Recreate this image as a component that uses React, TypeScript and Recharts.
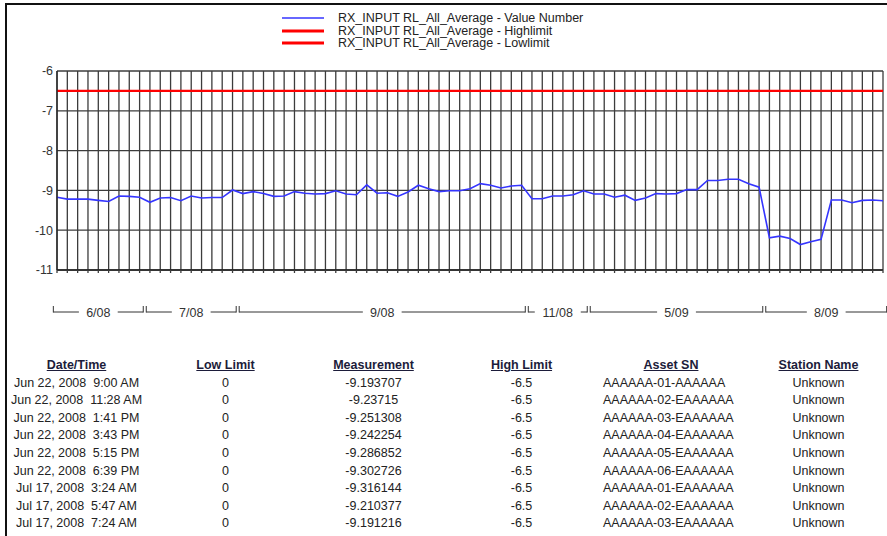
import React from 'react';
import { LineChart, Line, XAxis, YAxis, CartesianGrid, Legend } from 'recharts';

// ---- chart data ----
const valueNumber = [
  -9.17, -9.22, -9.22, -9.22, -9.25, -9.28, -9.14, -9.15, -9.17, -9.30,
  -9.19, -9.18, -9.26, -9.14, -9.19, -9.18, -9.18, -8.99, -9.08, -9.03,
  -9.08, -9.15, -9.14, -9.03, -9.07, -9.09, -9.08, -9.01, -9.09, -9.11,
  -8.86, -9.07, -9.06, -9.15, -9.04, -8.87, -8.96, -9.03, -9.01, -9.01,
  -8.96, -8.83, -8.87, -8.94, -8.89, -8.87, -9.21, -9.21, -9.14, -9.14,
  -9.11, -9.01, -9.09, -9.09, -9.17, -9.12, -9.25, -9.19, -9.08, -9.09,
  -9.08, -8.98, -8.98, -8.75, -8.75, -8.72, -8.72, -8.83, -8.92, -10.19,
  -10.15, -10.21, -10.36, -10.29, -10.23, -9.24, -9.24, -9.31, -9.25, -9.24,
  -9.26,
];
const highLimit = -6.5;
const lowLimit = 0;
const yTicks = [-6, -7, -8, -9, -10, -11];
const groupLabels = ['6/08', '7/08', '9/08', '11/08', '5/09', '8/09'];
const groupCounts = [9, 9, 28, 6, 17, 12];
const seriesNames = [
  'RX_INPUT RL_All_Average - Value Number',
  'RX_INPUT RL_All_Average - Highlimit',
  'RX_INPUT RL_All_Average - Lowlimit',
];

// ---- table data ----
const tableHeaders = ['Date/Time', 'Low Limit', 'Measurement', 'High Limit', 'Asset SN', 'Station Name'];
const tableDates = [
  'Jun 22, 2008  9:00 AM',
  'Jun 22, 2008  11:28 AM',
  'Jun 22, 2008  1:41 PM',
  'Jun 22, 2008  3:43 PM',
  'Jun 22, 2008  5:15 PM',
  'Jun 22, 2008  6:39 PM',
  'Jul 17, 2008  3:24 AM',
  'Jul 17, 2008  5:47 AM',
  'Jul 17, 2008  7:24 AM',
];
const tableLow = ['0', '0', '0', '0', '0', '0', '0', '0', '0'];
const tableMeas = ['-9.193707', '-9.23715', '-9.251308', '-9.242254', '-9.286852', '-9.302726', '-9.316144', '-9.210377', '-9.191216'];
const tableHigh = ['-6.5', '-6.5', '-6.5', '-6.5', '-6.5', '-6.5', '-6.5', '-6.5', '-6.5'];
const tableAsset = [
  'AAAAAA-01-AAAAAA',
  'AAAAAA-02-EAAAAAA',
  'AAAAAA-03-EAAAAAA',
  'AAAAAA-04-EAAAAAA',
  'AAAAAA-05-EAAAAAA',
  'AAAAAA-06-EAAAAAA',
  'AAAAAA-01-EAAAAAA',
  'AAAAAA-02-EAAAAAA',
  'AAAAAA-03-EAAAAAA',
];
const tableStation = ['Unknown', 'Unknown', 'Unknown', 'Unknown', 'Unknown', 'Unknown', 'Unknown', 'Unknown', 'Unknown'];

const FONT = '"Liberation Sans", Arial, Helvetica, sans-serif';

const data = valueNumber.map((v, i) => ({ i, value: v, high: highLimit, low: lowLimit }));
const lastIndex = valueNumber.length - 1;
const allTicks = valueNumber.map((_, i) => i);

const groupCenters: number[] = [];
{
  let start = -0.5;
  groupCounts.forEach((n) => {
    groupCenters.push(start + n / 2);
    start += n;
  });
}

const GroupTick = (props: any) => {
  const { x, y, payload, width } = props;
  const idx = groupCenters.findIndex((c) => Math.abs(c - payload.value) < 1e-6);
  if (idx < 0) return null;
  const n = groupCounts[idx];
  const ppu = (typeof width === 'number' && width > 0 ? width : 826) / lastIndex;
  const left = x - (n / 2) * ppu + 1.5;
  const right = x + (n / 2) * ppu - 1.5;
  const label = groupLabels[idx];
  const tw = label.length * 7.2 + 10;
  return (
    <g>
      <line x1={left} x2={right} y1={y} y2={y} stroke="#333" strokeWidth={1} />
      <line x1={left} x2={left} y1={y + 0.5} y2={y - 6} stroke="#333" strokeWidth={1} />
      <line x1={right} x2={right} y1={y + 0.5} y2={y - 6} stroke="#333" strokeWidth={1} />
      <rect x={x - tw / 2} y={y - 8} width={tw} height={16} fill="#fff" />
      <text x={x} y={y} dy="0.36em" textAnchor="middle" fontSize={12.5} fontFamily={FONT} fill="#333">
        {label}
      </text>
    </g>
  );
};

const renderLegend = (props: any) => {
  const payload = [...(props.payload || [])].sort(
    (a: any, b: any) => seriesNames.indexOf(String(a.value)) - seriesNames.indexOf(String(b.value))
  );
  return (
    <div style={{ height: 61, paddingTop: 2, boxSizing: 'border-box' }}>
      {payload.map((p: any, i: number) => (
        <div key={i} style={{ display: 'flex', alignItems: 'center', height: 12.5, marginLeft: 282 }}>
          <svg width={42} height={12} style={{ display: 'block' }}>
            <line x1={0} x2={42} y1={6} y2={6} stroke={p.color} strokeWidth={String(p.value).includes('Value') ? 1.5 : 3} />
          </svg>
          <span style={{ marginLeft: 14, fontSize: 12.5, color: '#222', lineHeight: '12.5px', whiteSpace: 'nowrap', fontFamily: FONT }}>
            {p.value}
          </span>
        </div>
      ))}
    </div>
  );
};

const colWidths = [153, 145, 151, 145, 154, 141];
const rowH = 17.6;

export default function App() {
  const rows = tableDates.map((d, r) => [d, tableLow[r], tableMeas[r], tableHigh[r], tableAsset[r], tableStation[r]]);
  return (
    <div style={{ position: 'absolute', left: 0, top: 0, width: 887, height: 536, overflow: 'hidden', background: '#fff', fontFamily: FONT }}>
      <div style={{ position: 'absolute', left: 5, top: 3, width: 950, height: 600, borderLeft: '2px solid #111', borderTop: '2px solid #111' }} />
      <div style={{ position: 'absolute', left: 0, top: 0 }}>
        <LineChart width={887} height={332} data={data} margin={{ top: 10, right: 4, bottom: 0, left: 0 }}>
          <Legend verticalAlign="top" align="left" content={renderLegend} wrapperStyle={{ top: 10, left: 0, width: 887, height: 61 }} />
          <CartesianGrid stroke="#3c3c3c" strokeWidth={1.3} />
          <XAxis
            dataKey="i"
            type="number"
            domain={[0, lastIndex]}
            ticks={allTicks}
            interval={0}
            tickFormatter={() => ''}
            tickSize={3}
            tickLine={{ stroke: '#3c3c3c', strokeWidth: 1.3 }}
            axisLine={{ stroke: '#222', strokeWidth: 1.3 }}
            height={42}
          />
          <XAxis
            xAxisId="grp"
            dataKey="i"
            type="number"
            domain={[0, lastIndex]}
            ticks={groupCenters}
            interval={0}
            tick={<GroupTick />}
            tickSize={0}
            tickMargin={0}
            axisLine={false}
            tickLine={false}
            height={20}
          />
          <YAxis
            type="number"
            domain={[-11, -6]}
            ticks={yTicks}
            allowDataOverflow
            width={57}
            tickSize={0}
            tickMargin={4}
            axisLine={{ stroke: '#222', strokeWidth: 1.3 }}
            tick={{ fontSize: 12.5, fontFamily: FONT, fill: '#333' }}
          />
          <Line name={seriesNames[0]} dataKey="value" stroke="#3535ff" strokeWidth={1.6} dot={false} isAnimationActive={false} />
          <Line name={seriesNames[1]} dataKey="high" stroke="#ff0000" strokeWidth={2.2} dot={false} isAnimationActive={false} />
          <Line name={seriesNames[2]} dataKey="low" stroke="#ff0000" strokeWidth={2.2} dot={false} isAnimationActive={false} />
        </LineChart>
      </div>
      <table
        style={{
          position: 'absolute',
          left: 0,
          top: 357,
          width: 889,
          borderCollapse: 'collapse',
          tableLayout: 'fixed',
          fontSize: 12.5,
          fontFamily: FONT,
        }}
      >
        <colgroup>
          {colWidths.map((w, i) => (
            <col key={i} style={{ width: w }} />
          ))}
        </colgroup>
        <thead>
          <tr style={{ height: rowH }}>
            {tableHeaders.map((h, i) => (
              <th
                key={i}
                style={{ padding: 0, height: rowH, lineHeight: `${rowH}px`, textAlign: 'center', fontWeight: 'bold', textDecoration: 'underline', color: '#1c1c3a', whiteSpace: 'nowrap' }}
              >
                {h}
              </th>
            ))}
          </tr>
        </thead>
        <tbody>
          {rows.map((row, r) => (
            <tr key={r} style={{ height: rowH }}>
              {row.map((c, i) => (
                <td
                  key={i}
                  style={{
                    padding: 0,
                    paddingLeft: i === 4 ? 9 : 0,
                    height: rowH,
                    lineHeight: `${rowH}px`,
                    textAlign: i === 4 ? 'left' : 'center',
                    color: '#222',
                    whiteSpace: 'pre',
                  }}
                >
                  {c}
                </td>
              ))}
            </tr>
          ))}
        </tbody>
      </table>
    </div>
  );
}
